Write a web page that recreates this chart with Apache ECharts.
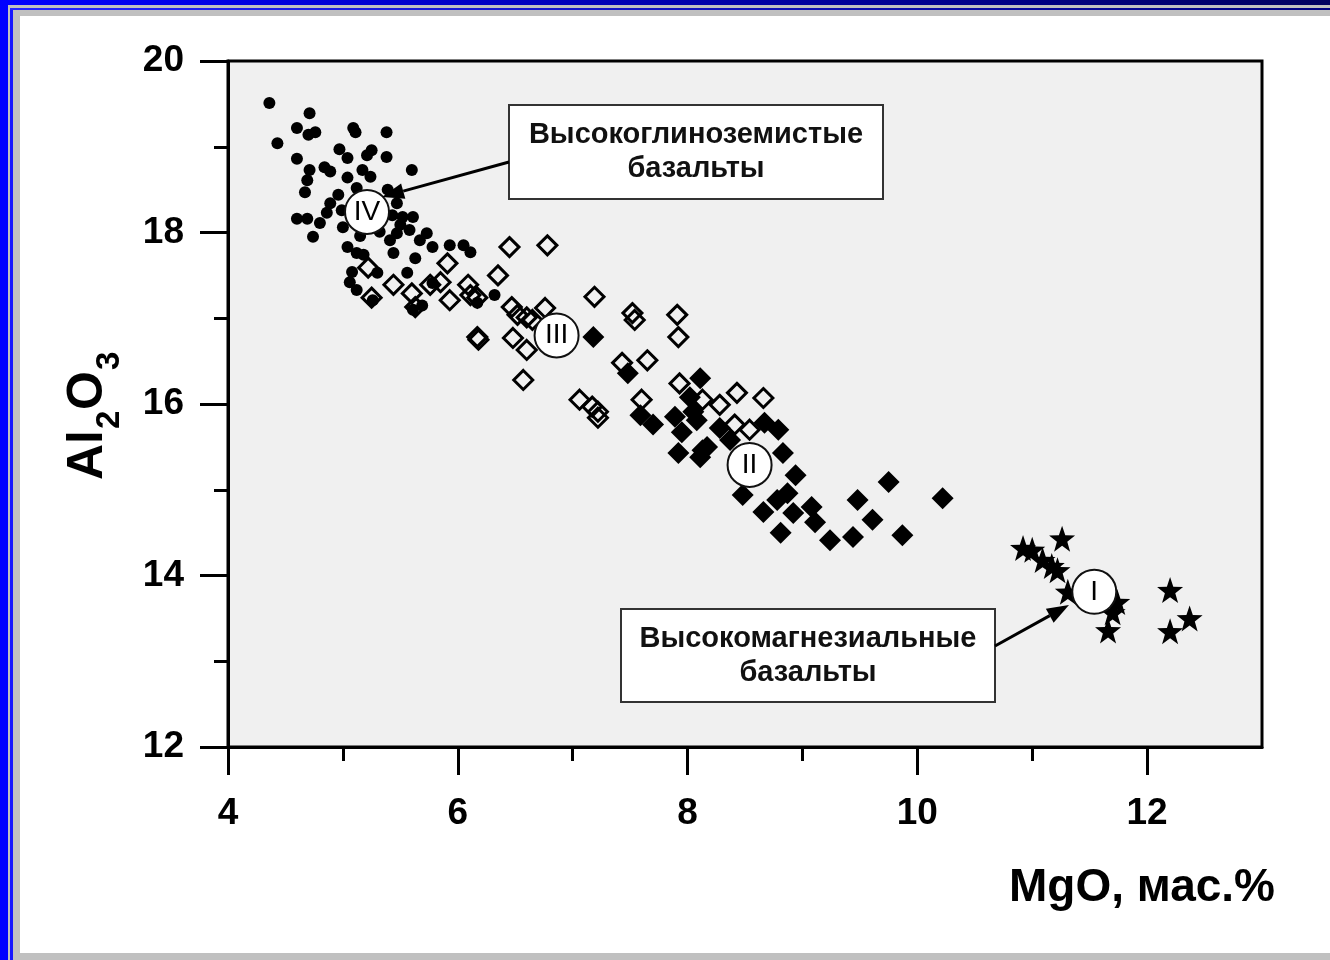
<!DOCTYPE html>
<html>
<head>
<meta charset="utf-8">
<title>MgO - Al2O3</title>
<script src="https://cdn.jsdelivr.net/npm/echarts@6/dist/echarts.min.js"></script>
<style>
  body { margin: 0; width: 1330px; height: 960px; background: #c0c0c0; position: relative; overflow: hidden; }
  .f { position: absolute; }
  #bl  { left: 0; top: 0; width: 8px; height: 960px; background: #0000ff; }
  #bl2 { left: 10px; top: 8px; width: 3px; height: 952px; background: #1515ff; }
  #bt  { left: 0; top: 0; width: 1330px; height: 5px; background: linear-gradient(to right, #0000ff, #000060); }
  #bt2 { left: 10px; top: 8px; width: 1320px; height: 2px; background: linear-gradient(to right, #2525ff, #000080); }
  #panel { left: 20px; top: 16px; width: 1310px; height: 937px; background: #fff; }
  #chart { left: 0; top: 0; width: 1330px; height: 960px; }
</style>
</head>
<body>
<div class="f" id="bl"></div>
<div class="f" id="bt"></div>
<div class="f" id="bl2"></div>
<div class="f" id="bt2"></div>
<div class="f" id="panel"></div>
<div class="f" id="chart"></div>
<script type="text/javascript">
  // MgO, Al2O3 (мас.%)
  var groupIV = [ // высокоглиноземистые, чёрные точки
    [4.36,19.51],[4.71,19.39],[4.60,19.22],[4.70,19.14],[4.76,19.17],[4.43,19.04],[5.09,19.22],[5.11,19.17],
    [5.38,19.17],[4.97,18.97],[5.25,18.96],[5.21,18.90],[5.38,18.88],[4.60,18.86],[5.04,18.87],[4.71,18.73],
    [4.84,18.76],[4.89,18.71],[5.60,18.73],[4.69,18.61],[4.67,18.47],[5.04,18.64],[5.24,18.65],[5.17,18.73],
    [4.96,18.44],[4.89,18.34],[4.86,18.23],[4.60,18.16],[4.69,18.16],[4.80,18.11],[4.74,17.95],[5.00,18.06],
    [5.47,18.34],[5.52,18.18],[5.61,18.18],[5.47,17.99],[5.41,17.91],[5.73,17.99],[5.67,17.91],[5.78,17.83],
    [5.93,17.85],[6.05,17.85],[6.11,17.77],[5.04,17.83],[5.12,17.76],[5.18,17.74],[5.44,17.76],[5.63,17.70],
    [5.08,17.54],[5.06,17.42],[5.12,17.33],[5.30,17.53],[5.56,17.53],[5.26,17.21],[5.61,17.10],[5.78,17.41],
    [6.17,17.18],[6.32,17.27],[5.69,17.15],[4.99,18.26],[5.43,18.20],[5.32,18.01],[5.15,17.96],[5.39,18.50],
    [5.50,18.09],[5.58,18.03],[5.12,18.52]
  ];
  var groupIII = [ // открытые ромбы
    [5.22,17.59],[5.25,17.24],[5.44,17.39],[5.60,17.29],[5.63,17.13],[5.76,17.39],[5.85,17.42],[5.91,17.64],
    [5.93,17.21],[6.09,17.39],[6.11,17.27],[6.17,17.24],[6.35,17.50],[6.45,17.83],[6.78,17.85],[6.47,17.13],
    [6.52,17.04],[6.60,17.01],[6.65,16.98],[6.76,17.12],[6.17,16.78],[6.18,16.75],[6.48,16.77],[6.60,16.63],
    [6.57,16.28],[7.19,17.25],[7.52,17.06],[7.54,16.98],[7.91,17.04],[7.92,16.78],[7.65,16.51],[7.43,16.48],
    [7.06,16.05],[7.17,15.97],[7.22,15.91],[7.22,15.84],[7.60,16.05],[7.93,16.24],[8.13,16.05],[8.28,15.99],
    [8.43,16.13],[8.66,16.07],[8.41,15.76],[8.54,15.70]
  ];
  var groupII = [ // залитые ромбы
    [7.18,16.78],[7.48,16.36],[8.11,16.30],[7.59,15.87],[7.70,15.76],[7.89,15.85],[8.05,15.91],[8.08,15.81],
    [8.02,16.08],[7.95,15.67],[7.92,15.43],[8.13,15.46],[8.11,15.38],[8.28,15.72],[8.37,15.58],[8.67,15.78],
    [8.79,15.70],[8.83,15.43],[8.94,15.17],[8.48,14.94],[8.66,14.74],[8.78,14.88],[8.87,14.96],[8.92,14.73],
    [9.08,14.80],[9.11,14.62],[8.81,14.50],[9.24,14.41],[9.44,14.45],[9.48,14.88],[9.61,14.65],[9.75,15.09],
    [9.87,14.47],[10.22,14.90],[8.17,15.50]
  ];
  var groupI = [ // высокомагнезиальные, звёзды
    [10.92,14.32],[11.00,14.30],[11.26,14.43],[11.09,14.18],[11.17,14.11],[11.22,14.06],[11.74,13.69],
    [11.70,13.57],[11.66,13.36],[12.20,13.83],[12.20,13.35],[12.37,13.50],[11.31,13.81]
  ];
  var groupLabels = [['IV',5.21,18.24],['III',6.86,16.80],['II',8.54,15.29],['I',11.54,13.81]];

  var xMajor = [4, 6, 8, 10, 12];
  var xMinor = [5, 7, 9, 11];
  var yMajor = [12, 14, 16, 18, 20];
  var yMinor = [13, 15, 17, 19];

  var FONT = '"Liberation Sans", Arial, sans-serif';
  var star = 'path://M0,-10L2.35,-3.24L9.51,-3.09L3.8,1.24L5.88,8.09L0,4L-5.88,8.09L-3.8,1.24L-9.51,-3.09L-2.35,-3.24Z';

  function arrow(x1, y1, x2, y2) {
    var a = Math.atan2(y2 - y1, x2 - x1), L = 22, W = 8;
    var bx = x2 - L * Math.cos(a), by = y2 - L * Math.sin(a);
    return [
      { type: 'line', z: 100, shape: { x1: x1, y1: y1, x2: bx, y2: by }, style: { stroke: '#000', lineWidth: 3 } },
      { type: 'polygon', z: 100, shape: { points: [[x2, y2],
          [bx + W * Math.sin(a), by - W * Math.cos(a)], [bx - W * Math.sin(a), by + W * Math.cos(a)]] },
        style: { fill: '#000' } }
    ];
  }
  function box(x, y, w, h, txt) {
    return [
      { type: 'rect', z: 100, shape: { x: x, y: y, width: w, height: h }, style: { fill: '#fff', stroke: '#333', lineWidth: 2 } },
      { type: 'text', z: 101, x: x + w / 2, y: y + h / 2, style: { text: txt, font: 'bold 29px ' + FONT,
          fill: '#111', align: 'center', verticalAlign: 'middle', lineHeight: 34 } }
    ];
  }

  var chart = echarts.init(document.getElementById('chart'));
  var tickStyle = { color: '#000', width: 3 };
  var option = {
    animation: false,
    backgroundColor: 'transparent',
    grid: { left: 228, top: 61, right: 68, bottom: 213, show: true, backgroundColor: '#f0f0f0',
      borderColor: '#000', borderWidth: 3 },
    xAxis: [
      { type: 'value', min: 4, max: 13, interval: 1, splitLine: { show: false },
        axisLine: { show: true, lineStyle: { color: '#000', width: 3 } },
        axisTick: { show: true, length: 28, lineStyle: tickStyle, customValues: xMajor },
        axisLabel: { customValues: xMajor, margin: 48, color: '#000', fontSize: 37, fontWeight: 'bold', fontFamily: FONT } },
      { type: 'value', min: 4, max: 13, interval: 1, position: 'bottom', splitLine: { show: false },
        axisLine: { show: false }, axisLabel: { show: false },
        axisTick: { show: true, length: 14, lineStyle: tickStyle, customValues: xMinor } }
    ],
    yAxis: [
      { type: 'value', min: 12, max: 20, interval: 1, splitLine: { show: false },
        axisLine: { show: true, lineStyle: { color: '#000', width: 3 } },
        axisTick: { show: true, length: 28, lineStyle: tickStyle, customValues: yMajor },
        axisLabel: { customValues: yMajor, margin: 44, color: '#000', fontSize: 37, fontWeight: 'bold', fontFamily: FONT } },
      { type: 'value', min: 12, max: 20, interval: 1, position: 'left', splitLine: { show: false },
        axisLine: { show: false }, axisLabel: { show: false },
        axisTick: { show: true, length: 14, lineStyle: tickStyle, customValues: yMinor } }
    ],
    series: [
      { type: 'scatter', data: groupIV, symbol: 'circle', symbolSize: 12, itemStyle: { color: '#000', opacity: 1 }, z: 2 },
      { type: 'scatter', data: groupIII, symbol: 'diamond', symbolSize: 19,
        itemStyle: { color: 'rgba(0,0,0,0)', borderColor: '#000', borderWidth: 3, opacity: 1 }, z: 3 },
      { type: 'scatter', data: groupII, symbol: 'diamond', symbolSize: 22, itemStyle: { color: '#000', opacity: 1 }, z: 4 },
      { type: 'scatter', data: groupI, symbol: star, symbolSize: 26, itemStyle: { color: '#000', opacity: 1 }, z: 5 },
      { type: 'scatter', z: 10, symbol: 'circle', symbolSize: 44,
        data: groupLabels.map(function (d) { return { name: d[0], value: [d[1], d[2]] }; }),
        itemStyle: { color: '#fff', borderColor: '#111', borderWidth: 2, opacity: 1 },
        label: { show: true, position: 'inside', formatter: '{b}', fontSize: 28, color: '#000', fontFamily: FONT } }
    ],
    graphic: [].concat(
      box(509, 105, 374, 94, 'Высокоглиноземистые\nбазальты'),
      box(621, 609, 374, 93, 'Высокомагнезиальные\nбазальты'),
      arrow(509, 162, 382, 197),
      arrow(995, 646, 1069, 605),
      [
        { type: 'text', z: 100, x: 1275, y: 888, style: { text: 'MgO, мас.%', font: 'bold 46px ' + FONT,
            fill: '#000', align: 'right', verticalAlign: 'middle' } },
        { type: 'group', x: 88, y: 480, rotation: Math.PI / 2, z: 100, children: [
            { type: 'text', x: 0, y: 0, style: { text: 'Al', font: 'bold 50px ' + FONT, fill: '#000', align: 'left', verticalAlign: 'middle' } },
            { type: 'text', x: 51, y: 22, style: { text: '2', font: 'bold 33px ' + FONT, fill: '#000', align: 'left', verticalAlign: 'middle' } },
            { type: 'text', x: 70, y: 0, style: { text: 'O', font: 'bold 50px ' + FONT, fill: '#000', align: 'left', verticalAlign: 'middle' } },
            { type: 'text', x: 110, y: 22, style: { text: '3', font: 'bold 33px ' + FONT, fill: '#000', align: 'left', verticalAlign: 'middle' } }
        ] }
      ]
    )
  };
  chart.setOption(option);
</script>
</body>
</html>
